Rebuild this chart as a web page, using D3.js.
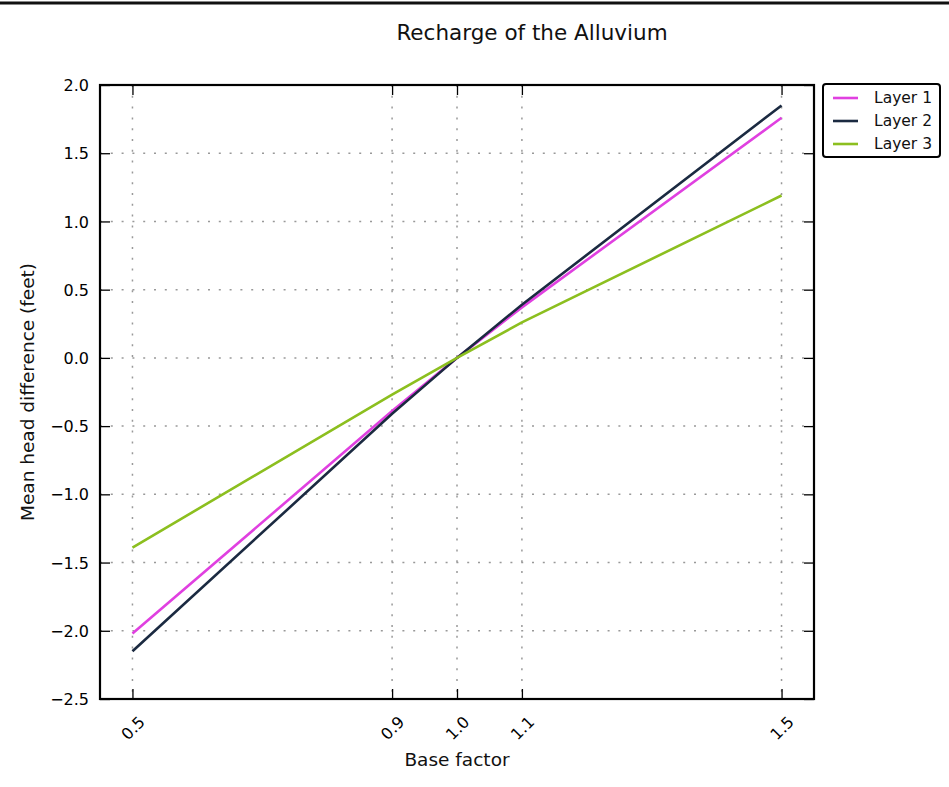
<!DOCTYPE html>
<html>
<head>
<meta charset="utf-8">
<script src="https://cdn.jsdelivr.net/npm/d3@7"></script>
<style>
  html, body { margin: 0; padding: 0; background: #fff; }
  svg { display: block; font-family: "DejaVu Sans", sans-serif; }
</style>
</head>
<body>
<svg id="chart" width="949" height="787"></svg>
<script>
// Base-factor multipliers applied to alluvium recharge
const baseFactors = [0.5, 0.9, 1.0, 1.1, 1.5];
const xTickLabels = ["0.5", "0.9", "1.0", "1.1", "1.5"];

// Mean head difference (feet) per layer
const layer1 = [-2.02, -0.39, 0.0, 0.37, 1.76];
const layer2 = [-2.15, -0.41, 0.0, 0.39, 1.85];
const layer3 = [-1.39, -0.27, 0.0, 0.26, 1.19];

const seriesNames = ["Layer 1", "Layer 2", "Layer 3"];
const seriesColors = ["#e040e0", "#1b2a41", "#8cbf1f"];

const yTicks = [2.0, 1.5, 1.0, 0.5, 0.0, -0.5, -1.0, -1.5, -2.0, -2.5];

const svg = d3.select("#chart");
const plot = { left: 100, right: 814, top: 85, bottom: 699 };

const x = d3.scaleLinear().domain([0.45, 1.55]).range([plot.left, plot.right]);
const y = d3.scaleLinear().domain([-2.5, 2.0]).range([plot.bottom, plot.top]);

// frame line across the top edge
svg.append("line").attr("x1", 0).attr("x2", 949).attr("y1", 3).attr("y2", 3)
  .attr("stroke", "#111").attr("stroke-width", 3);

// title
svg.append("text").attr("x", 532).attr("y", 40).attr("text-anchor", "middle")
  .attr("font-size", 21.5).attr("fill", "#111").text("Recharge of the Alluvium");

// dotted grid
const grid = svg.append("g").attr("stroke", "#999").attr("stroke-width", 1.5)
  .attr("stroke-dasharray", "2,8.8");
grid.selectAll("line.v").data(baseFactors).join("line")
  .attr("x1", d => x(d)).attr("x2", d => x(d))
  .attr("y1", plot.top).attr("y2", plot.bottom);
grid.selectAll("line.h").data(yTicks).join("line")
  .attr("y1", d => y(d)).attr("y2", d => y(d))
  .attr("x1", plot.left).attr("x2", plot.right);

// series lines
const line = d3.line().x((d, i) => x(baseFactors[i])).y(d => y(d));
[layer1, layer2, layer3].forEach((vals, k) => {
  svg.append("path").datum(vals).attr("d", line)
    .attr("fill", "none").attr("stroke", seriesColors[k]).attr("stroke-width", 2.6);
});

// axes with inward ticks on all four sides
const axisG = svg.append("g");
const tickLen = 10;
const bottomAxis = d3.axisBottom(x).tickValues(baseFactors).tickSize(-tickLen)
  .tickFormat((d, i) => xTickLabels[i]);
const topAxis = d3.axisTop(x).tickValues(baseFactors).tickSize(-tickLen).tickFormat("");
const leftAxis = d3.axisLeft(y).tickValues(yTicks).tickSize(-tickLen)
  .tickFormat(d => d3.format(".1f")(d).replace("-", "\u2212")).tickPadding(11);
const rightAxis = d3.axisRight(y).tickValues(yTicks).tickSize(-tickLen).tickFormat("");

const gB = axisG.append("g").attr("transform", `translate(0,${plot.bottom})`).call(bottomAxis);
const gT = axisG.append("g").attr("transform", `translate(0,${plot.top})`).call(topAxis);
const gL = axisG.append("g").attr("transform", `translate(${plot.left},0)`).call(leftAxis);
const gR = axisG.append("g").attr("transform", `translate(${plot.right},0)`).call(rightAxis);

[gB, gT, gL, gR].forEach(g => {
  g.select(".domain").remove();
  g.selectAll(".tick line").attr("stroke", "#000").attr("stroke-width", 1.3);
  g.selectAll("text").attr("fill", "#000").attr("font-family", "DejaVu Sans, sans-serif");
});
gL.selectAll("text").attr("font-size", 16).attr("dy", "0.35em");
gB.selectAll("text").attr("font-size", 16)
  .attr("text-anchor", "middle")
  .attr("dy", "0.35em").attr("y", 0)
  .attr("transform", "translate(0,29) rotate(-45)");

// plot frame
svg.append("rect").attr("x", plot.left).attr("y", plot.top)
  .attr("width", plot.right - plot.left).attr("height", plot.bottom - plot.top)
  .attr("fill", "none").attr("stroke", "#000").attr("stroke-width", 2.2);

// axis labels
svg.append("text").attr("x", 457).attr("y", 766).attr("text-anchor", "middle")
  .attr("font-size", 18.5).attr("fill", "#111").text("Base factor");
svg.append("text").attr("transform", "translate(34,392) rotate(-90)")
  .attr("text-anchor", "middle").attr("font-size", 18.5).attr("fill", "#111")
  .text("Mean head difference (feet)");

// legend
const legend = svg.append("g").attr("transform", "translate(823,84)");
legend.append("rect").attr("x", 0).attr("y", 0).attr("width", 117).attr("height", 73)
  .attr("rx", 3).attr("fill", "#fff").attr("stroke", "#000").attr("stroke-width", 2);
seriesNames.forEach((name, i) => {
  const yy = 14 + i * 23;
  legend.append("line").attr("x1", 10).attr("x2", 35).attr("y1", yy).attr("y2", yy)
    .attr("stroke", seriesColors[i]).attr("stroke-width", 2.6);
  legend.append("text").attr("x", 51).attr("y", yy).attr("dy", "0.35em")
    .attr("font-size", 15.5).attr("fill", "#111").text(name);
});
</script>
</body>
</html>
